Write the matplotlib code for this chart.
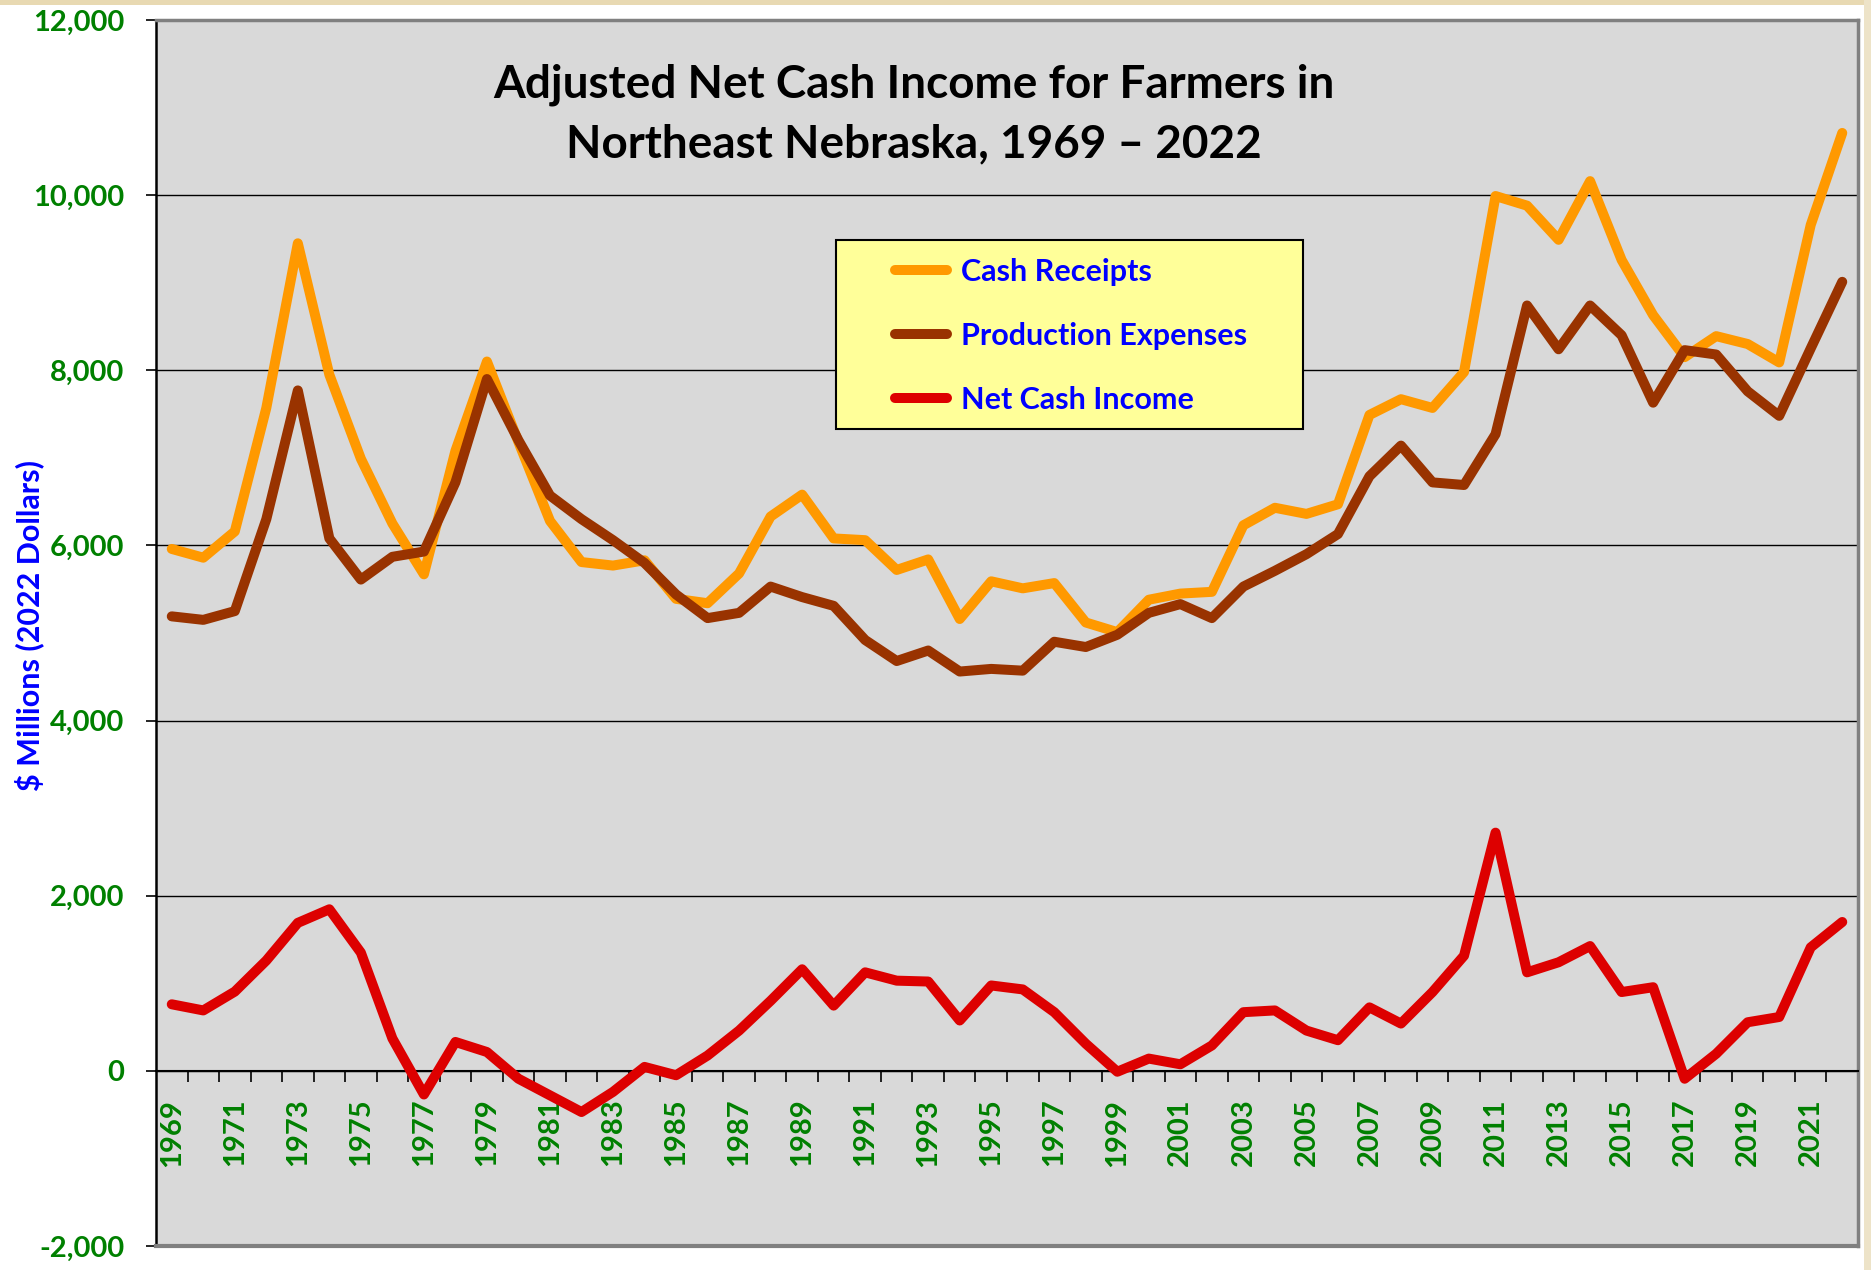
import matplotlib
matplotlib.use('Agg')
import matplotlib.pyplot as plt
from matplotlib.patches import Rectangle
from matplotlib.lines import Line2D
from matplotlib.ticker import FixedLocator, FixedFormatter, NullFormatter

plt.rcParams['font.family'] = ['Lato', 'DejaVu Sans']
plt.rcParams['font.weight'] = 'bold'

# ---------------- data ----------------
years = list(range(1969, 2023))

cash_receipts = [5960, 5860, 6160, 7570, 9450, 7950, 6990, 6250, 5670, 7080,
                 8100, 7180, 6280, 5810, 5770, 5830, 5390, 5340, 5680, 6330,
                 6580, 6080, 6060, 5720, 5840, 5160, 5590, 5510, 5570, 5120,
                 5010, 5380, 5450, 5470, 6230, 6430, 6360, 6470, 7490, 7670,
                 7570, 7980, 9990, 9880, 9490, 10160, 9260, 8630, 8150, 8390,
                 8300, 8090, 9660, 10710]

production_expenses = [5190, 5150, 5250, 6300, 7770, 6080, 5610, 5870, 5930, 6720,
                       7900, 7200, 6570, 6300, 6060, 5800, 5440, 5170, 5230, 5530,
                       5410, 5310, 4920, 4680, 4800, 4560, 4590, 4570, 4900, 4840,
                       4980, 5230, 5330, 5170, 5530, 5710, 5900, 6130, 6790, 7140,
                       6720, 6690, 7270, 8740, 8240, 8740, 8400, 7630, 8230, 8180,
                       7760, 7480, 8250, 9010]

net_cash_income = [760, 690, 905, 1260, 1690, 1845, 1350, 370, -270, 330,
                   215, -90, -280, -470, -240, 45, -50, 175, 460, 800,
                   1160, 745, 1125, 1030, 1020, 575, 975, 930, 670, 310,
                   -10, 140, 75, 290, 670, 690, 460, 350, 725, 540,
                   900, 1315, 2720, 1125, 1240, 1425, 900, 955, -90, 195,
                   555, 615, 1410, 1700]

series_names = ["Cash Receipts", "Production Expenses", "Net Cash Income"]
series_colors = ["#FF9900", "#993300", "#DD0000"]

y_ticks = list(range(-2000, 12001, 2000))
label_years = years[::2]

title_lines = ["Adjusted Net Cash Income for Farmers in",
               "Northeast Nebraska, 1969 \u2013 2022"]
y_label = "$ Millions (2022 Dollars)"

# ---------------- figure ----------------
W, H = 1871, 1270
fig = plt.figure(figsize=(W / 100, H / 100), dpi=100)
fig.patch.set_facecolor('white')


def fx(px):
    return px / W


def fy(py):
    return 1 - py / H


ax = fig.add_axes([fx(156), fy(1246), (1858 - 156) / W, (1246 - 20) / H])
ax.set_facecolor('#D9D9D9')

for vals, color in zip([cash_receipts, production_expenses, net_cash_income], series_colors):
    ax.plot(years, vals, color=color, lw=7.2, solid_joinstyle='round',
            solid_capstyle='round', zorder=4)

ax.set_xlim(years[0] - 0.5, years[-1] + 0.5)
ax.set_ylim(-2000, 12000)

# y axis
ax.yaxis.set_major_locator(FixedLocator(y_ticks))
ax.yaxis.set_major_formatter(FixedFormatter([f"{v:,.0f}" for v in y_ticks]))
ax.tick_params(axis='y', direction='out', length=7.5, width=1.2,
               color='black', pad=15.5, labelsize=21, labelcolor='#008000')
ax.yaxis.grid(True, color='black', lw=1.0)
ax.set_axisbelow(True)

# x axis (category axis crossing at 0)
boundaries = [y + 0.5 for y in years]
ax.xaxis.set_major_locator(FixedLocator(boundaries))
ax.xaxis.set_major_formatter(NullFormatter())
ax.xaxis.set_minor_locator(FixedLocator(label_years))
ax.xaxis.set_minor_formatter(FixedFormatter([str(y) for y in label_years]))
ax.tick_params(axis='x', which='major', direction='out', length=8, width=1.2,
               color='black')
ax.tick_params(axis='x', which='minor', length=0, pad=20, labelsize=21,
               labelcolor='#008000', labelrotation=90)

ax.spines['bottom'].set_position(('data', 0))
ax.spines['bottom'].set_color('black')
ax.spines['bottom'].set_linewidth(1.5)
ax.spines['left'].set_color('black')
ax.spines['left'].set_linewidth(1.8)
ax.spines['top'].set_color('#808080')
ax.spines['top'].set_linewidth(2.5)
ax.spines['right'].set_color('#808080')
ax.spines['right'].set_linewidth(2.5)
ax.axhline(-2000, color='#808080', lw=3, clip_on=False, zorder=2.6)

# title
fig.text(fx(914), fy(97), title_lines[0], ha='center', va='baseline',
         fontsize=33, fontweight='bold', color='black')
fig.text(fx(914), fy(157), title_lines[1], ha='center', va='baseline',
         fontsize=33, fontweight='bold', color='black')

# y label
fig.text(fx(29), fy(626), y_label, rotation=90, ha='center', va='center',
         fontsize=22, fontweight='bold', color='#0000FF')

# legend box
box = Rectangle((fx(836), fy(429)), (1303 - 836) / W, (429 - 240) / H,
                transform=fig.transFigure, facecolor='#FFFF99',
                edgecolor='black', lw=1.5, zorder=5)
fig.add_artist(box)

handles = [Line2D([], [], color=c, lw=7.2, solid_capstyle='round') for c in series_colors]
leg = fig.legend(handles, series_names, loc='upper left',
                 bbox_to_anchor=(fx(895), fy(258)), bbox_transform=fig.transFigure,
                 frameon=False, borderpad=0, borderaxespad=0, handlelength=1.7,
                 handletextpad=0.45, labelspacing=1.18,
                 prop={'family': 'Lato', 'weight': 'bold', 'size': 22})
for t in leg.get_texts():
    t.set_color('#0000FF')
leg.set_zorder(6)

# screenshot edge strips
fig.add_artist(Rectangle((0, fy(5)), 1, 5 / H, transform=fig.transFigure,
                         facecolor='#E8D9B2', edgecolor='none', zorder=10))
fig.add_artist(Rectangle((fx(1864), 0), 7 / W, 1, transform=fig.transFigure,
                         facecolor='#EDE3C8', edgecolor='none', zorder=10))

fig.savefig('out.png', dpi=100)
